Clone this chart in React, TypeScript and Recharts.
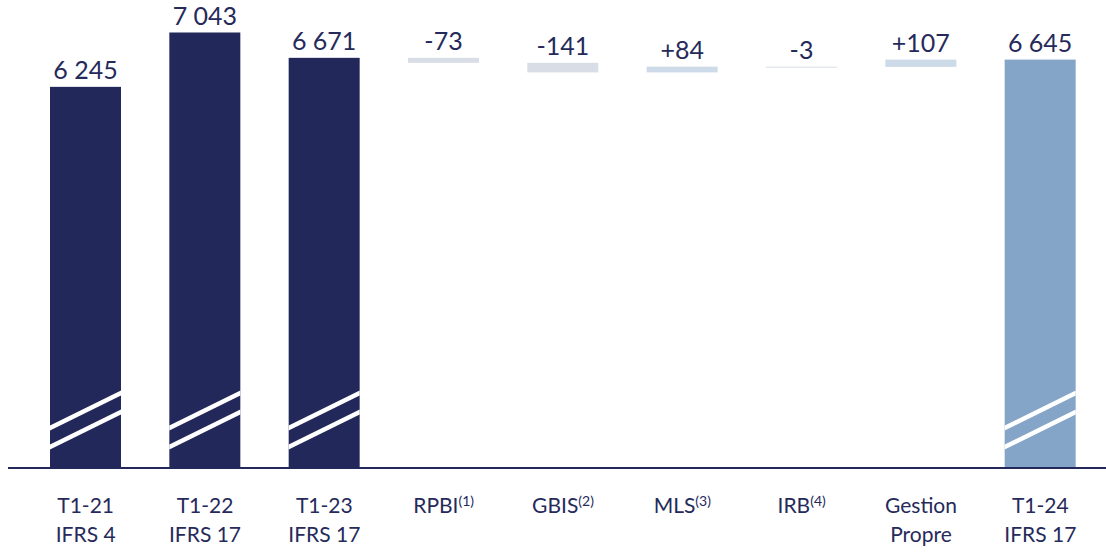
import { BarChart, Bar, XAxis, YAxis, LabelList } from 'recharts'

// axis break: the value axis starts well above zero
const AXIS_MIN = 650
const AXIS_MAX = 7520

const tickTop = ['T1-21', 'T1-22', 'T1-23', 'RPBI', 'GBIS', 'MLS', 'IRB', 'Gestion', 'T1-24']
const tickBottom = ['IFRS 4', 'IFRS 17', 'IFRS 17', '', '', '', '', 'Propre', 'IFRS 17']
const tickSup = ['', '', '', '(1)', '(2)', '(3)', '(4)', '', '']

const totals = [6245, 7043, 6671, null, null, null, null, null, 6645]
const changes = [null, null, null, -73, -141, 84, -3, 107, null]

const NAVY = '#23285a'
const TEXT = '#262a5b'
const FINAL = '#84a5c8'
const NEG = '#d9dde6'
const POS = '#cddbe8'
const FONT = 'Lato, sans-serif'

const fmt = (v: number) => String(v).replace(/\B(?=(\d{3})+(?!\d))/g, ' ')

let running = 0
const rows = tickTop.map((name, i) => {
  const t = totals[i]
  if (t != null) {
    running = t
    return {
      name,
      range: [AXIS_MIN, t],
      kind: i === tickTop.length - 1 ? 'final' : 'total',
      label: fmt(t),
    }
  }
  const c = changes[i] as number
  const start = running
  running += c
  return {
    name,
    range: [Math.min(start, running), Math.max(start, running)],
    kind: c < 0 ? 'neg' : 'pos',
    label: c > 0 ? `+${c}` : String(c),
  }
})

function WaterfallBar(props: any) {
  const { x, y, width, height, payload } = props
  const kind = payload.kind
  const h = Math.max(height, 1)
  const fill = kind === 'total' ? NAVY : kind === 'final' ? FINAL : kind === 'neg' ? NEG : POS
  if (kind === 'neg' || kind === 'pos') {
    return <rect x={x} y={y} width={width} height={h} fill={fill} />
  }
  const bottom = y + height
  const rise = 35
  const t = 5
  const slash = (yl: number) => {
    const yr = yl - rise
    return `${x},${yl - t / 2} ${x + width},${yr - t / 2} ${x + width},${yr + t / 2} ${x},${yl + t / 2}`
  }
  return (
    <g>
      <rect x={x} y={y} width={width} height={height} fill={fill} />
      <polygon points={slash(bottom - 40)} fill="#fff" />
      <polygon points={slash(bottom - 21)} fill="#fff" />
    </g>
  )
}

function CategoryTick(props: any) {
  const { x, y, payload } = props
  const i = payload.index
  return (
    <g>
      <text x={x} y={y + 45} textAnchor="middle" fill={TEXT} fontSize={21} fontFamily={FONT}>
        {tickTop[i]}
        {tickSup[i] ? (
          <tspan dy={-7} fontSize={14}>
            {tickSup[i]}
          </tspan>
        ) : null}
      </text>
      {tickBottom[i] ? (
        <text x={x} y={y + 74} textAnchor="middle" fill={TEXT} fontSize={21} fontFamily={FONT}>
          {tickBottom[i]}
        </text>
      ) : null}
    </g>
  )
}

export default function App() {
  return (
    <div style={{ position: 'absolute', left: 0, top: 0, fontFamily: FONT }}>
      <BarChart width={1106} height={555} data={rows} margin={{ top: 0, right: 0, bottom: 0, left: 8 }}>
        <XAxis
          dataKey="name"
          interval={0}
          height={87}
          tickLine={false}
          tickSize={0}
          tickMargin={0}
          axisLine={{ stroke: NAVY, strokeWidth: 2 }}
          padding={{ left: 18, right: 6 }}
          tick={<CategoryTick />}
        />
        <YAxis hide domain={[AXIS_MIN, AXIS_MAX]} />
        <Bar dataKey="range" barSize={71} shape={<WaterfallBar />} isAnimationActive={false}>
          <LabelList dataKey="label" position="top" offset={8} fill={TEXT} fontSize={25} fontFamily={FONT} />
        </Bar>
      </BarChart>
    </div>
  )
}
